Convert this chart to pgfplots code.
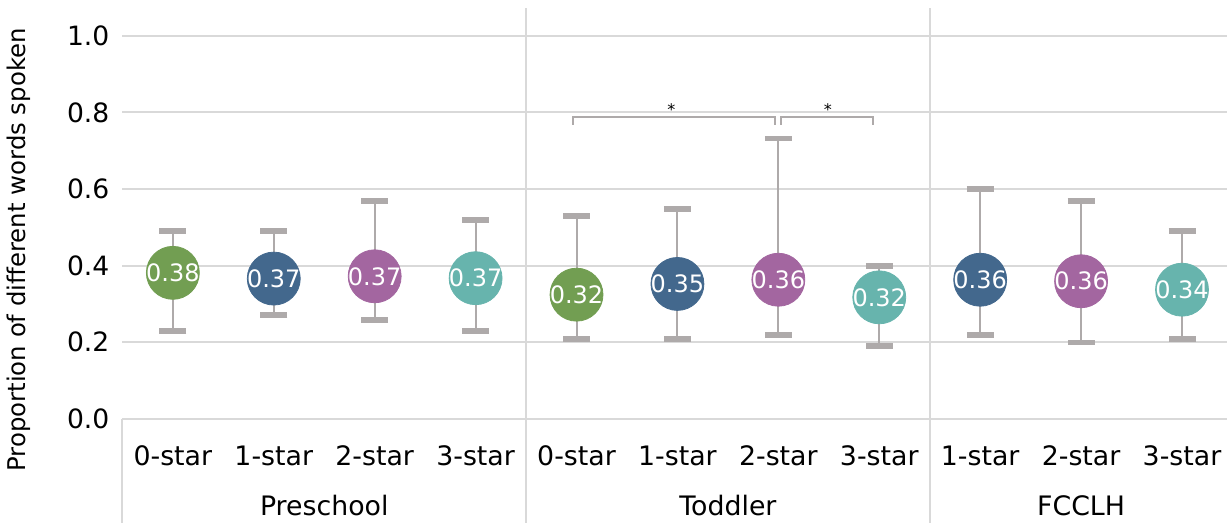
\documentclass[border=0pt]{standalone}
\usepackage{fontspec}
\setmainfont{DejaVu Sans}
\usepackage{pgfplots}
\usepackage{pgfplotstable}
\pgfplotsset{compat=1.18}
\definecolor{cgreen}{HTML}{729E52}
\definecolor{cblue}{HTML}{43688D}
\definecolor{cpurple}{HTML}{A366A0}
\definecolor{cteal}{HTML}{67B4AD}
\definecolor{gridc}{HTML}{D9D9D9}
\definecolor{errc}{HTML}{AEAAAA}

% x  mean  upper  lower  label
\pgfplotstableread{
x y hi lo lab
0 0.381 0.491 0.230 0.38
1 0.366 0.490 0.270 0.37
2 0.372 0.570 0.258 0.37
3 0.367 0.520 0.230 0.37
4 0.324 0.530 0.209 0.32
5 0.352 0.548 0.209 0.35
6 0.363 0.732 0.219 0.36
7 0.317 0.400 0.189 0.32
8 0.363 0.600 0.219 0.36
9 0.359 0.570 0.199 0.36
10 0.337 0.491 0.209 0.34
}\dall
\pgfplotstableread{
x y lab
0 0.381 0.38
4 0.324 0.32
}\dgreen
\pgfplotstableread{
x y lab
1 0.366 0.37
5 0.352 0.35
8 0.363 0.36
}\dblue
\pgfplotstableread{
x y lab
2 0.372 0.37
6 0.363 0.36
9 0.359 0.36
}\dpurple
\pgfplotstableread{
x y lab
3 0.367 0.37
7 0.317 0.32
10 0.337 0.34
}\dteal

\begin{document}
\begin{tikzpicture}
\begin{axis}[
  scale only axis,
  width=552.75pt, height=205.5pt,
  xmin=-0.5, xmax=10.446,
  ymin=0, ymax=1.073,
  clip=false,
  axis lines*=left,
  y axis line style={draw=none},
  x axis line style={gridc, line width=1pt},
  major tick length=0pt,
  ymajorgrids,
  grid style={gridc, line width=1pt},
  ytick={0,0.2,0.4,0.6,0.8,1.0},
  yticklabel style={/pgf/number format/fixed, /pgf/number format/fixed zerofill,
    /pgf/number format/precision=1, /pgf/number format/assume math mode=true,
    font=\fontsize{13.3}{15}\selectfont, xshift=-3pt},
  xtick={0,...,10},
  xticklabels={0-star,1-star,2-star,3-star,0-star,1-star,2-star,3-star,1-star,2-star,3-star},
  xticklabel style={font=\fontsize{13.4}{15}\selectfont, anchor=base, yshift=-23.5pt},
  tick label style={text=black},
]
% error bars
\addplot[errc, only marks, mark=none,
  error bars/.cd, y dir=both, y explicit,
  error bar style={draw=errc, line width=1pt},
  error mark options={draw=errc, line width=3pt, mark size=6.75pt, rotate=90}]
  table[x=x, y=y, y error plus expr=\thisrow{hi}-\thisrow{y}, y error minus expr=\thisrow{y}-\thisrow{lo}] {\dall};
\pgfplotsset{circ/.style={#1, only marks, mark=*, mark size=13.25pt, mark options={fill=#1, draw=#1},
  nodes near coords, point meta=explicit symbolic,
  every node near coord/.style={anchor=center, text=white, font=\fontsize{12}{14}\selectfont}}}
\addplot[circ=cgreen] table[x=x, y=y, meta=lab] {\dgreen};
\addplot[circ=cblue] table[x=x, y=y, meta=lab] {\dblue};
\addplot[circ=cpurple] table[x=x, y=y, meta=lab] {\dpurple};
\addplot[circ=cteal] table[x=x, y=y, meta=lab] {\dteal};
% separators
\draw[gridc, line width=1pt] ([yshift=-52pt]axis cs:-0.5,0) -- (axis cs:-0.5,0);
\draw[gridc, line width=1pt] ([yshift=-52pt]axis cs:3.5,0) -- (axis cs:3.5,1.073);
\draw[gridc, line width=1pt] ([yshift=-52pt]axis cs:7.5,0) -- (axis cs:7.5,1.073);
% group labels
\node[anchor=base, font=\fontsize{13.4}{15}\selectfont] at ([yshift=-48.5pt]axis cs:1.5,0) {Preschool};
\node[anchor=base, font=\fontsize{13.4}{15}\selectfont] at ([yshift=-48.5pt]axis cs:5.5,0) {Toddler};
\node[anchor=base, font=\fontsize{13.4}{15}\selectfont] at ([yshift=-48.5pt]axis cs:9,0) {FCCLH};
% significance brackets
\draw[errc, line width=1pt] (axis cs:3.97,0.768) -- (axis cs:3.97,0.789) -- (axis cs:5.97,0.789) -- (axis cs:5.97,0.768);
\draw[errc, line width=1pt] (axis cs:6.03,0.768) -- (axis cs:6.03,0.789) -- (axis cs:6.94,0.789) -- (axis cs:6.94,0.768);
\node[anchor=base, inner sep=0pt, font=\fontsize{8}{9}\selectfont] at (axis cs:4.94,0.792) {*};
\node[anchor=base, inner sep=0pt, font=\fontsize{8}{9}\selectfont] at (axis cs:6.49,0.792) {*};
% y label
\node[rotate=90, anchor=center, font=\fontsize{12.2}{14}\selectfont] at ([xshift=-51.75pt]rel axis cs:0,0.411) {Proportion of different words spoken};
% bounding box
\path ([xshift=-61.25pt,yshift=-52pt]rel axis cs:0,0) rectangle ([yshift=4pt]rel axis cs:1,1);
\end{axis}
\end{tikzpicture}
\end{document}
